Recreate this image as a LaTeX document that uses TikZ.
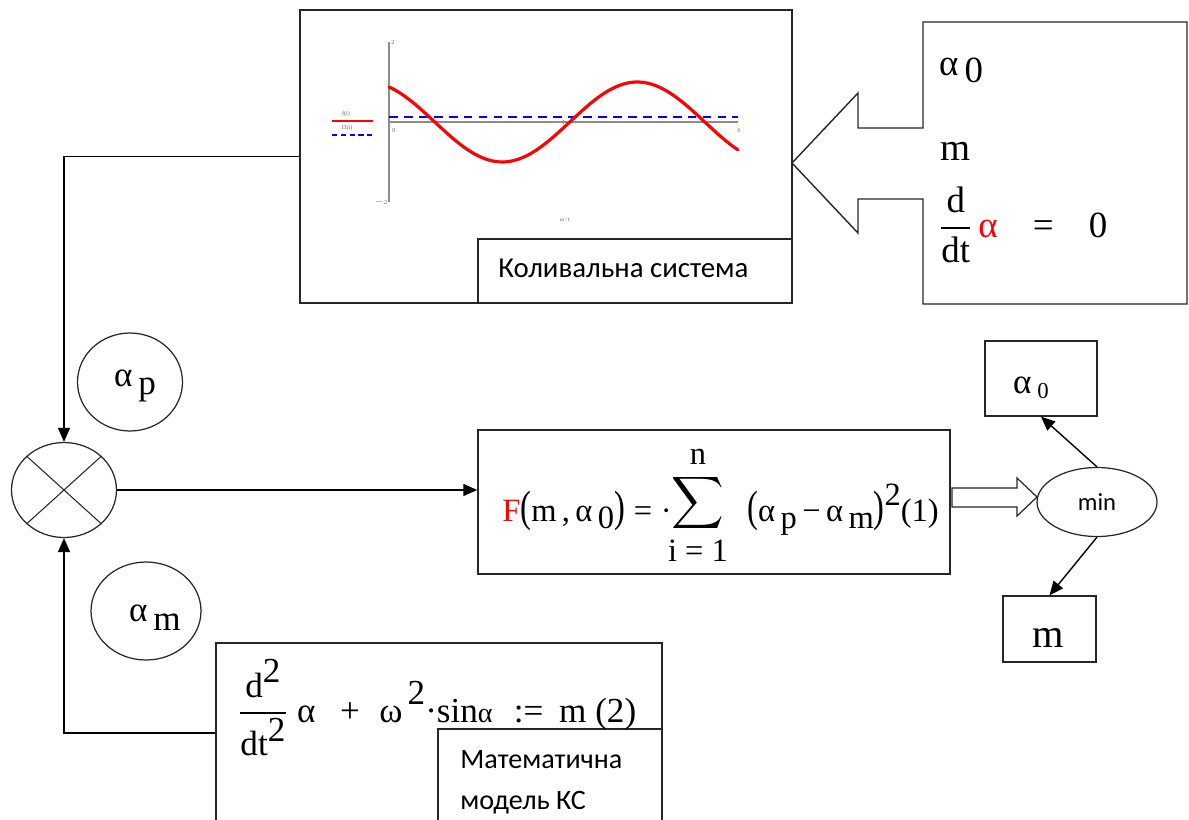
\documentclass[tikz,border=0pt]{standalone}
\usepackage{amsmath}
\usepackage{fontspec}
\setmainfont{Liberation Serif}
\newfontfamily\uafont{Carlito}
\usetikzlibrary{arrows.meta,shapes.geometric,fit}
\tikzset{
  blk/.style={draw=black!85, line width=0.8pt, inner sep=0pt},
  oval/.style={draw=black!85, line width=0.7pt, ellipse, inner sep=0pt},
  arr/.style={line width=0.8pt, -{Triangle[length=0.28cm,width=0.24cm]}},
  lbl/.style={font=\uafont\fontsize{16.4}{20}\selectfont, inner sep=0pt, anchor=west},
  frm/.style={font=\fontsize{18.5}{20}\selectfont, inner sep=0pt},
  tiny/.style={font=\fontsize{3.5}{4}\selectfont, inner sep=0pt, text=black!60},
}
\begin{document}
\begin{tikzpicture}[x=0.02cm, y=-0.02cm]
\useasboundingbox (0,0) rectangle (1189,819);
% коливальна система
\node[blk, fit={(300,10) (792,303)}] (sys) {};
\node[blk, fit={(478,239) (792,303)}] (sysname) {};
\node[lbl] (sysname text) at (498,268) {Коливальна система};
% графік
\draw[black!45, line width=0.7pt] (389,42) -- (389,202);
\draw[black!45, line width=0.7pt] (389,122) -- (738,122);
\draw[black!45, line width=0.5pt] (563,120) -- (563,124);
\node[tiny] (ytop) at (393,42) {2};
\node[tiny] (ybot) at (381,202) {$-$2};
\node[tiny] (xzero) at (394,130) {0};
\node[tiny] (xend) at (739,130) {6};
\node[tiny] (xlab) at (565,219) {ω$\cdot$t};
\node[tiny] (leg1) at (346,114) {f(t)};
\node[tiny] (leg2) at (347,128) {f3(t)};
\draw[red, line width=1.2pt] (332,121) -- (373,121);
\draw[blue, line width=1pt, dash pattern=on 3pt off 2pt] (332,135) -- (372,135);
\draw[blue, line width=1pt, dash pattern=on 5pt off 3.5pt] (389,117) -- (738,117);
\draw[red, line width=1.8pt, line cap=round]
  plot[domain=389:738, samples=90, smooth] (\x, {122-40*cos((\x-389)*1.3333+29)});
% початкові умови
\draw[black!85, line width=0.8pt] (923,128) -- (858,128) -- (858,93) -- (792,163)
  -- (858,233) -- (858,199) -- (923,199) -- (923,304) -- (1187,304)
  -- (1187,22) -- (923,22) -- cycle;
\draw[white, line width=1.5pt] (923,129) -- (923,198);
\node[frm, font=\fontsize{21}{22}\selectfont] (init a0) at (961,70) {α\,\raisebox{-4pt}{0}};
\node[frm, font=\fontsize{22}{22}\selectfont] (init m) at (956,151) {m};
\node[frm, font=\fontsize{21}{22}\selectfont, anchor=base west] (init da) at (939,237)
  {$\dfrac{\mbox{d}}{\mbox{dt}}$\,\textcolor{red}{α}\hspace{20pt}=\hspace{20pt}0};
% суматор
\node[oval, minimum width=2.1cm, minimum height=1.9cm] (sum) at (64,490) {};
\draw[black!85, line width=0.6pt] (sum.north west) -- (sum.south east);
\draw[black!85, line width=0.6pt] (sum.north east) -- (sum.south west);
\node[oval, minimum width=2.1cm, minimum height=1.96cm] (ap) at (130,382) {};
\node[frm, font=\fontsize{20}{22}\selectfont] (ap text) at (135,386) {α\,\raisebox{-5pt}{p}};
\node[oval, minimum width=2.2cm, minimum height=1.96cm] (am) at (146,611) {};
\node[frm, font=\fontsize{20}{22}\selectfont] (am text) at (155,618) {α\,\raisebox{-5pt}{m}};
% функціонал
\node[blk, fit={(478,430) (950,574)}] (func) {};
\node[frm, anchor=base west] (func left) at (502,521)
  {\textcolor{red}{F}\scalebox{1}[1.35]{(}m\,,\,α\,\raisebox{-4pt}{0}\scalebox{1}[1.35]{)}\hspace{5pt}=\hspace{5pt}·};
\node[inner sep=0pt, font=\fontsize{20}{20}\selectfont] (sigma) at (698,503) {$\displaystyle\sum$};
\node[frm] (sig top) at (698,457) {n};
\node[frm] (sig bot) at (698,551) {i = 1};
\node[frm, anchor=base west] (func right) at (747,521)
  {\scalebox{1}[1.35]{(}α\,\raisebox{-4pt}{p}\,−\,α\,\raisebox{-4pt}{m}\scalebox{1}[1.35]{)}\raisebox{9pt}{2}(1)};
% мінімізація
\node[oval, minimum width=2.4cm, minimum height=1.38cm, font=\uafont\fontsize{14}{16}\selectfont] (min) at (1097,502) {min};
\draw[black!85, line width=0.7pt] (952,488) -- (1017,488) -- (1017,478) -- (1037,497)
  -- (1017,516) -- (1017,507) -- (952,507) -- cycle;
\node[blk, fit={(985,341) (1097,416)}] (res a0) {};
\node[frm, font=\fontsize{20}{20}\selectfont] (res a0 text) at (1031,388) {α\,\raisebox{-3pt}{\fontsize{13}{13}\selectfont 0}};
\node[blk, fit={(1003,596) (1096,662)}] (res m) {};
\node[frm, font=\fontsize{23}{24}\selectfont] (res m text) at (1048,638) {m};
% модель
\node[blk, fit={(216,643) (662,823)}] (model) {};
\node[blk, fit={(438,729) (662,823)}] (modelname) {};
\node[lbl, align=left, font=\uafont\fontsize{16}{23.5}\selectfont] (modelname text) at (460,782)
  {Математична\\модель КС};
\node[frm, font=\fontsize{20}{22}\selectfont, anchor=base west] (model eq) at (238,722)
  {$\dfrac{\mbox{d}^{\mbox{2}}}{\mbox{dt}^{\mbox{2}}}$\hspace{5pt}α\hspace{14pt}+\hspace{11pt}ω\hspace{3pt}\raisebox{10pt}{2}·sin{\fontsize{16}{16}\selectfont α}\hspace{12pt}:=\hspace{9pt}m (2)};
% зв'язки
\draw[arr] (sys.west) -| (sum.north);
\draw[arr] (model.west) -| (sum.south);
\draw[arr] (sum.east) -- (sum.east -| func.west);
\draw[arr] (min.north) -- (res a0.south);
\draw[arr] (min.south) -- (res m.north);
\end{tikzpicture}
\end{document}
